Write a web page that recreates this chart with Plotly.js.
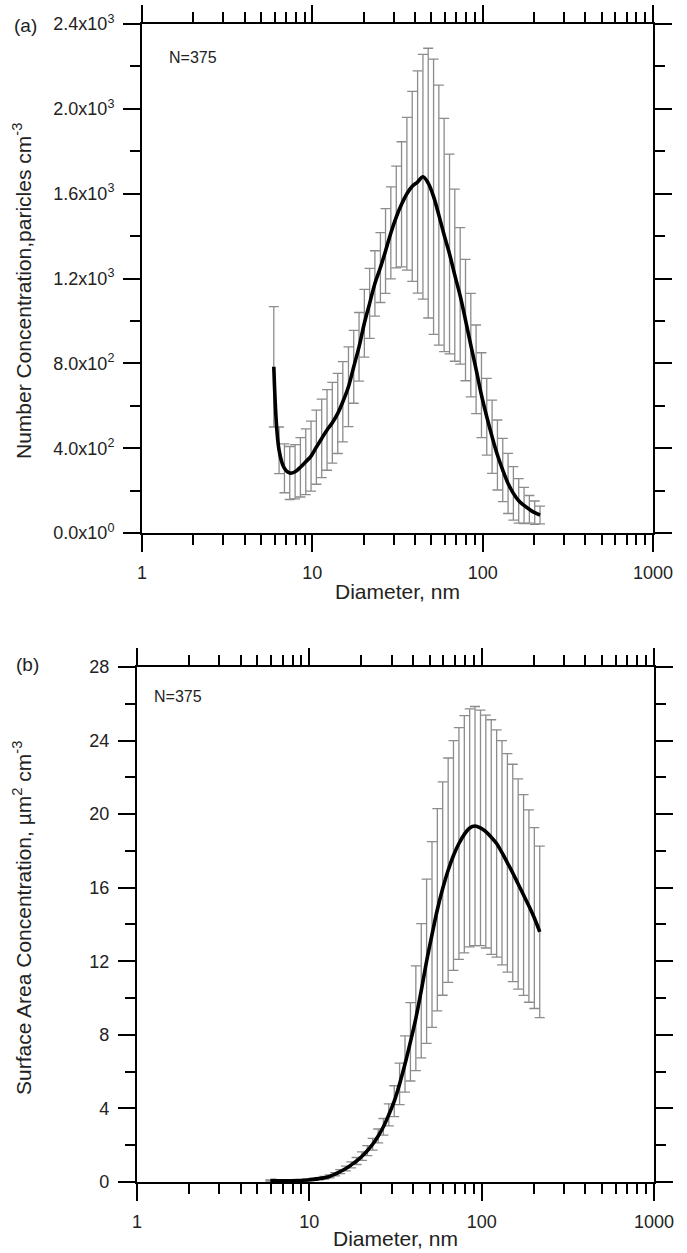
<!DOCTYPE html>
<html>
<head>
<meta charset="utf-8">
<script src="https://cdn.plot.ly/plotly-3.0.1.min.js"></script>
<style>html,body{margin:0;padding:0;background:#fff}#chart{width:687px;height:1253px}</style>
</head>
<body>
<div id="chart"></div>
<script>
// Particle diameters (nm)
const diameter = [5.94, 6.38, 6.86, 7.37, 7.92, 8.51, 9.15, 9.83, 10.56, 11.35, 12.2, 13.1, 14.1, 15.1, 16.3, 17.5, 18.8, 20.2, 21.7, 23.3, 25.1, 26.9, 28.9, 31.1, 33.4, 35.9, 38.6, 41.5, 44.6, 47.9, 51.5, 55.3, 59.4, 63.9, 68.6, 73.8, 79.3, 85.2, 91.5, 98.4, 105.7, 113.6, 122.1, 131.2, 141.0, 151.5, 162.8, 175.0, 188.0, 202.1, 217.2];

// (a) Number concentration, particles cm-3
const numberMean = [784, 390, 305, 283, 289, 310, 336, 363, 405, 446, 486, 520, 564, 619, 690, 784, 878, 989, 1083, 1177, 1252, 1330, 1415, 1490, 1550, 1600, 1635, 1655, 1680, 1650, 1586, 1499, 1405, 1316, 1216, 1118, 1004, 886, 772, 650, 548, 454, 368, 297, 234, 187, 152, 130, 112, 96, 85];
const numberSd = [284, 110, 115, 125, 128, 140, 155, 165, 175, 185, 190, 190, 189, 189, 188, 172, 162, 160, 165, 154, 165, 200, 217, 240, 295, 360, 448, 524, 577, 636, 649, 613, 550, 471, 406, 322, 286, 244, 209, 200, 181, 173, 165, 149, 142, 126, 105, 85, 65, 55, 42];

// (b) Surface area concentration, um2 cm-3
const surfaceMean = [0.08, 0.07, 0.06, 0.06, 0.06, 0.07, 0.09, 0.11, 0.14, 0.18, 0.23, 0.30, 0.42, 0.56, 0.73, 0.93, 1.14, 1.4, 1.7, 2.05, 2.5, 3.0, 3.65, 4.39, 5.33, 6.41, 7.62, 8.9, 10.4, 12.0, 13.45, 14.8, 15.95, 16.95, 17.75, 18.4, 18.9, 19.25, 19.35, 19.25, 19.05, 18.75, 18.4, 17.9, 17.35, 16.8, 16.2, 15.6, 15.0, 14.35, 13.6];
const surfaceSd = [0.03, 0.03, 0.03, 0.03, 0.03, 0.03, 0.03, 0.04, 0.05, 0.06, 0.07, 0.08, 0.09, 0.11, 0.13, 0.16, 0.19, 0.23, 0.27, 0.32, 0.38, 0.45, 0.6, 0.84, 1.13, 1.53, 2.13, 2.85, 3.65, 4.46, 5.05, 5.5, 5.8, 6.1, 6.25, 6.3, 6.45, 6.47, 6.5, 6.4, 6.33, 6.38, 6.18, 6.1, 5.94, 5.91, 5.72, 5.46, 5.23, 4.92, 4.66];

// Tick values and labels
const xTickVals = [1, 10, 100, 1000];
const xTickText = ['1', '10', '100', '1000'];
const xMinorVals = [2, 3, 4, 5, 6, 7, 8, 9, 20, 30, 40, 50, 60, 70, 80, 90, 200, 300, 400, 500, 600, 700, 800, 900];
const numberTickVals = [0, 400, 800, 1200, 1600, 2000, 2400];
const numberTickText = ['0.0x10<sup>0</sup>', '4.0x10<sup>2</sup>', '8.0x10<sup>2</sup>', '1.2x10<sup>3</sup>', '1.6x10<sup>3</sup>', '2.0x10<sup>3</sup>', '2.4x10<sup>3</sup>'];
const numberMinorVals = [200, 600, 1000, 1400, 1800, 2200];
const surfaceTickVals = [0, 4, 8, 12, 16, 20, 24, 28];
const surfaceTickText = ['0', '4', '8', '12', '16', '20', '24', '28'];
const surfaceMinorVals = [2, 6, 10, 14, 18, 22, 26];

const FONT = 'Liberation Sans, Arial, sans-serif';
const barColor = '#8c8c8c';

function errTrace(y, sd, xa, ya) {
  return {x: diameter, y: y, xaxis: xa, yaxis: ya, type: 'scatter', mode: 'markers',
    marker: {size: 1, color: 'rgba(0,0,0,0)'}, showlegend: false, hoverinfo: 'skip',
    error_y: {type: 'data', array: sd, symmetric: true, color: barColor, thickness: 1.3, width: 5}};
}
function lineTrace(y, xa, ya) {
  return {x: diameter, y: y, xaxis: xa, yaxis: ya, type: 'scatter', mode: 'lines',
    line: {color: '#000', width: 3.6, shape: 'spline', smoothing: 1}, showlegend: false};
}

const traces = [
  errTrace(numberMean, numberSd, 'x', 'y'),
  lineTrace(numberMean, 'x', 'y'),
  errTrace(surfaceMean, surfaceSd, 'x2', 'y2'),
  lineTrace(surfaceMean, 'x2', 'y2')
];

function xAxis(domain, anchor) {
  return {domain: domain, anchor: anchor, type: 'log', range: [0, 3], tickmode: 'array',
    tickvals: xTickVals, ticktext: xTickText, ticks: 'outside', ticklen: 17, tickwidth: 2, tickcolor: '#000',
    showline: true, linewidth: 2, linecolor: '#000', mirror: 'ticks', showgrid: false, zeroline: false,
    tickfont: {family: FONT, size: 18, color: '#222'}, ticklabelstandoff: 5,
    minor: {tickmode: 'array', tickvals: xMinorVals, ticks: 'outside', ticklen: 10, tickwidth: 2, tickcolor: '#000', showgrid: false}};
}
function yAxis(domain, anchor, range, vals, text, minorVals) {
  return {domain: domain, anchor: anchor, range: range, tickmode: 'array', tickvals: vals, ticktext: text,
    ticks: 'outside', ticklen: 17, tickwidth: 2, tickcolor: '#000',
    showline: true, linewidth: 2, linecolor: '#000', mirror: 'ticks', showgrid: false, zeroline: false,
    tickfont: {family: FONT, size: 18, color: '#222'}, ticklabelstandoff: 5,
    minor: {tickmode: 'array', tickvals: minorVals, ticks: 'outside', ticklen: 10, tickwidth: 2, tickcolor: '#000', showgrid: false}};
}

const ann = (text, x, y, opts) => Object.assign({text: text, x: x, y: y, xref: 'paper', yref: 'paper',
  showarrow: false, font: {family: FONT, size: 21, color: '#222'}}, opts || {});

const layout = {
  width: 687, height: 1253,
  margin: {l: 0, r: 0, t: 0, b: 0},
  paper_bgcolor: '#fff', plot_bgcolor: '#fff',
  showlegend: false,
  xaxis: xAxis([0.2067, 0.9505], 'y'),
  yaxis: yAxis([0.5746, 0.9808], 'x', [0, 2400], numberTickVals, numberTickText, numberMinorVals),
  xaxis2: xAxis([0.1994, 0.9520], 'y2'),
  yaxis2: yAxis([0.0567, 0.4677], 'x2', [0, 28], surfaceTickVals, surfaceTickText, surfaceMinorVals),
  annotations: [
    ann('(a)', 12 / 687, 1 - 26 / 1253, {xanchor: 'left', yanchor: 'middle', font: {family: FONT, size: 19, color: '#222'}}),
    ann('(b)', 14 / 687, 1 - 664 / 1253, {xanchor: 'left', yanchor: 'middle', font: {family: FONT, size: 19, color: '#222'}}),
    ann('N=375', 167 / 687, 1 - 58 / 1253, {xanchor: 'left', yanchor: 'middle', font: {family: FONT, size: 16, color: '#222'}}),
    ann('N=375', 152 / 687, 1 - 696 / 1253, {xanchor: 'left', yanchor: 'middle', font: {family: FONT, size: 16, color: '#222'}}),
    ann('Diameter, nm', 397.5 / 687, 1 - 591 / 1253, {xanchor: 'center', yanchor: 'middle'}),
    ann('Diameter, nm', 395.5 / 687, 1 - 1238 / 1253, {xanchor: 'center', yanchor: 'middle'}),
    ann('Number Concentration,paricles cm<sup>-3</sup>', 22 / 687, 1 - 291 / 1253, {xanchor: 'center', yanchor: 'middle', textangle: -90}),
    ann('Surface Area Concentration, µm<sup>2</sup> cm<sup>-3</sup>', 22 / 687, 1 - 918 / 1253, {xanchor: 'center', yanchor: 'middle', textangle: -90})
  ]
};

Plotly.newPlot('chart', traces, layout, {staticPlot: true, displayModeBar: false});
</script>
</body>
</html>
